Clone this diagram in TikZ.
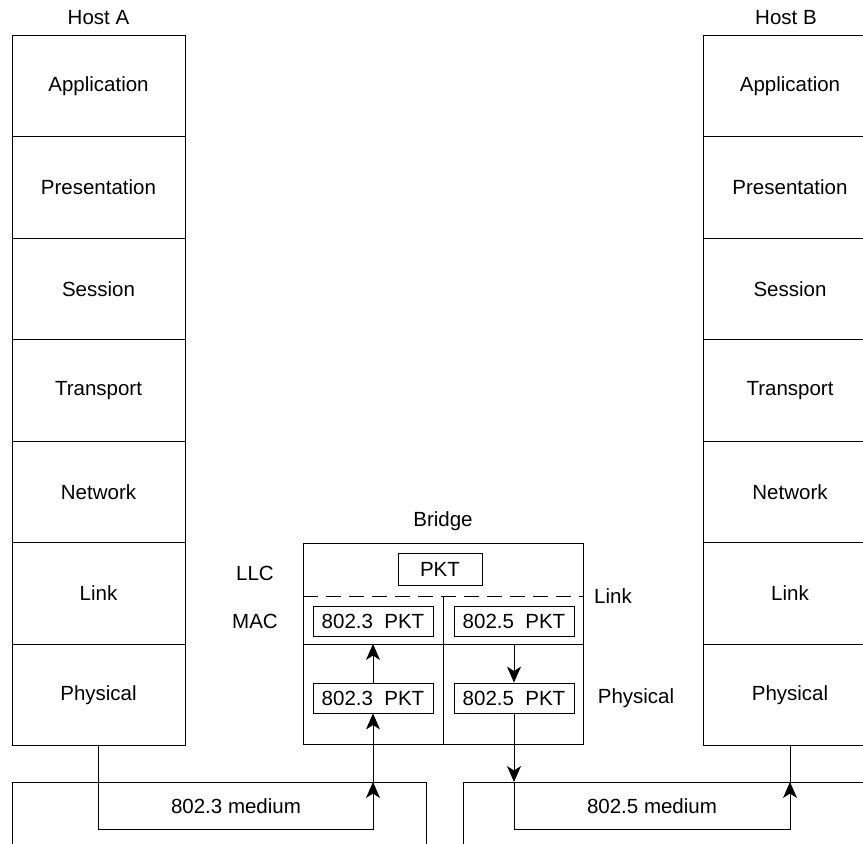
\documentclass[tikz,border=0pt]{standalone}
\usepackage{fontspec}
\setmainfont{Liberation Sans}
\usetikzlibrary{arrows.meta}
\tikzset{
  layer/.style={draw, line width=0.9pt, minimum width=173pt, minimum height=101.5pt, inner sep=0pt},
  pkt/.style={draw, line width=0.9pt, minimum width=120pt, minimum height=30pt, inner sep=0pt},
  wire/.style={line width=0.9pt},
  flow/.style={line width=0.9pt, -{Stealth[length=16pt,width=14pt,inset=4.5pt]}}
}
\begin{document}
\begin{tikzpicture}[x=1pt, y=-1pt, font=\fontsize{20.5}{24}\selectfont]
  \clip (0,0) rectangle (863,844);
  \foreach \name [count=\i] in {Application,Presentation,Session,Transport,Network,Link,Physical} {
    \node[layer] (a\i) at (98.5, {35+101.5*(\i-0.5)}) {\name};
    \node[layer] (b\i) at (790, {35+101.5*(\i-0.5)}) {\name};
  }
  \node (hosta) at (98.5,18) {Host A};
  \node (hostb) at (786,18) {Host B};

  \node[draw, line width=0.9pt, minimum width=280pt, minimum height=201pt, inner sep=0pt] (bridge) at (443,643.5) {};
  \node (bridgelbl) at (443,521) {Bridge};
  \coordinate (llcl) at (303,596);
  \coordinate (llcr) at (583,596);
  \coordinate (macl) at (303,644);
  \coordinate (macr) at (583,644);
  \coordinate (midtop) at (443,596);
  \draw[wire, dash pattern=on 15pt off 8pt] (llcl) -- (llcr);
  \draw[wire] (macl) -- (macr);
  \draw[wire] (midtop) -- (bridge.south);

  \node[pkt, minimum width=84pt, minimum height=32pt] (pkt) at (440,569) {PKT};
  \node[pkt] (mac3) at (373,621) {802.3~~PKT};
  \node[pkt] (mac5) at (514,621) {802.5~~PKT};
  \node[pkt] (phy3) at (373,698) {802.3~~PKT};
  \node[pkt] (phy5) at (514,698) {802.5~~PKT};

  \node (llc) at (255,573) {LLC};
  \node (mac) at (255,621) {MAC};
  \node (link) at (613,596) {Link};
  \node (phys) at (636,698) {Physical};

  \coordinate (div3) at (373,644);
  \coordinate (div5) at (514,644);
  \coordinate (med3) at (373,782);
  \coordinate (med5) at (514,782);
  \coordinate (medb) at (790,782);
  \coordinate (low3) at (373,829);
  \coordinate (low5) at (790,829);

  \draw[wire] (12,844) -- (12,782) -- (426,782) -- (426,844);
  \draw[wire] (463,844) -- (463,782) -- (870,782);

  \draw[flow] (a7.south) |- (low3) -- (med3);
  \draw[flow] (med3) -- (phy3.south);
  \draw[flow] (phy3.north) -- (div3);
  \draw[flow] (div5) -- (phy5.north);
  \draw[flow] (phy5.south) -- (med5);
  \draw[flow] (med5) |- (low5) -- (medb);
  \draw[wire] (medb) -- (b7.south);

  \node (m3) at (236,806) {802.3 medium};
  \node (m5) at (652,806) {802.5 medium};
\end{tikzpicture}
\end{document}
